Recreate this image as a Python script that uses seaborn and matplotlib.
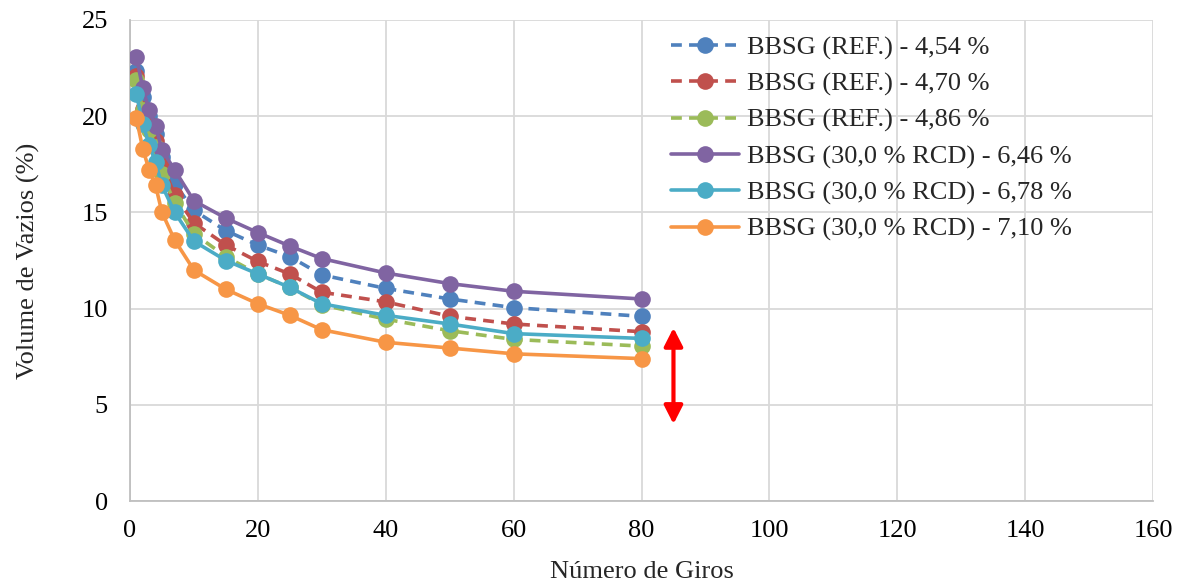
import matplotlib
matplotlib.use("Agg")
import matplotlib.pyplot as plt
import seaborn as sns
import pandas as pd

giros = [1, 2, 3, 4, 5, 7, 10, 15, 20, 25, 30, 40, 50, 60, 80]

ref_454 = [22.35, 21.0, 20.0, 19.1, 17.9, 16.5, 15.1, 14.05, 13.3, 12.7, 11.75, 11.05, 10.5, 10.05, 9.6]
ref_470 = [22.1, 20.4, 19.6, 18.7, 17.5, 15.9, 14.45, 13.3, 12.45, 11.8, 10.85, 10.35, 9.6, 9.2, 8.8]
ref_486 = [21.9, 20.3, 19.3, 18.4, 17.0, 15.5, 13.9, 12.7, 11.8, 11.1, 10.2, 9.45, 8.85, 8.4, 8.05]
rcd_646 = [23.1, 21.45, 20.3, 19.5, 18.25, 17.2, 15.6, 14.7, 13.95, 13.25, 12.6, 11.85, 11.3, 10.9, 10.5]
rcd_678 = [21.15, 19.6, 18.5, 17.6, 16.4, 15.0, 13.5, 12.5, 11.8, 11.1, 10.25, 9.65, 9.2, 8.7, 8.45]
rcd_710 = [19.9, 18.3, 17.2, 16.4, 15.0, 13.55, 12.0, 11.0, 10.25, 9.65, 8.9, 8.25, 7.95, 7.65, 7.4]

series_names = [
    "BBSG (REF.) - 4,54 %",
    "BBSG (REF.) - 4,70 %",
    "BBSG (REF.) - 4,86 %",
    "BBSG (30,0 % RCD) - 6,46 %",
    "BBSG (30,0 % RCD) - 6,78 %",
    "BBSG (30,0 % RCD) - 7,10 %",
]
series_values = [ref_454, ref_470, ref_486, rcd_646, rcd_678, rcd_710]
colors = ["#4f81bd", "#c0504d", "#9bbb59", "#8064a2", "#4bacc6", "#f79646"]
dashed = [True, True, True, False, False, False]

arrow_x = 85
arrow_y = [4.0, 9.0]

x_ticks = [0, 20, 40, 60, 80, 100, 120, 140, 160]
y_ticks = [0, 5, 10, 15, 20, 25]

sns.set_theme(style="white")
plt.rcParams["font.family"] = ["Liberation Serif", "DejaVu Serif"]

fig = plt.figure(figsize=(11.85, 5.86), dpi=100)
ax = fig.add_axes([130 / 1185, 1 - 501 / 586, (1153 - 130) / 1185, (501 - 20) / 586])

for name, vals, c, d in zip(series_names, series_values, colors, dashed):
    df = pd.DataFrame({"Giros": giros, "Vv": vals})
    sns.lineplot(data=df, x="Giros", y="Vv", ax=ax, color=c, marker="o",
                 markersize=12, markeredgewidth=0, linewidth=2.6,
                 linestyle="--" if d else "-", label=name, zorder=3)

for line in ax.get_lines():
    if line.get_linestyle() == "--":
        line.set_dashes((3, 2))

ax.annotate("", xy=(arrow_x, arrow_y[0]), xytext=(arrow_x, arrow_y[1]),
            arrowprops=dict(arrowstyle="<|-|>,head_length=0.55,head_width=0.28",
                            color="red", lw=3, mutation_scale=20,
                            shrinkA=0, shrinkB=0))

ax.set_xlim(0, 160)
ax.set_ylim(0, 25)
ax.set_xticks(x_ticks)
ax.set_yticks(y_ticks)
ax.grid(True, color="#d9d9d9", linewidth=1.3)
ax.set_axisbelow(True)
for s in ["top", "right"]:
    ax.spines[s].set_visible(False)
for s in ["left", "bottom"]:
    ax.spines[s].set_color("#bfbfbf")
    ax.spines[s].set_linewidth(1.3)
ax.tick_params(axis="both", labelsize=19, colors="black", length=0)
ax.tick_params(axis="x", pad=14)
ax.tick_params(axis="y", pad=16)
ax.set_xlabel("Número de Giros", fontsize=19)
ax.set_ylabel("Volume de Vazios (%)", fontsize=19)
ax.xaxis.set_label_coords(0.5, -0.148, transform=ax.transAxes)
ax.xaxis.label.set_va("center")
ax.yaxis.set_label_coords(-0.099, 0.5, transform=ax.transAxes)
ax.yaxis.label.set_va("center")

leg = ax.legend(loc="upper left", bbox_to_anchor=(525 / 1023, 1.0), frameon=False,
                fontsize=19, handlelength=2.6, handletextpad=0.27,
                labelspacing=0.47, borderaxespad=0.2)

fig.savefig("out.png", dpi=100)
